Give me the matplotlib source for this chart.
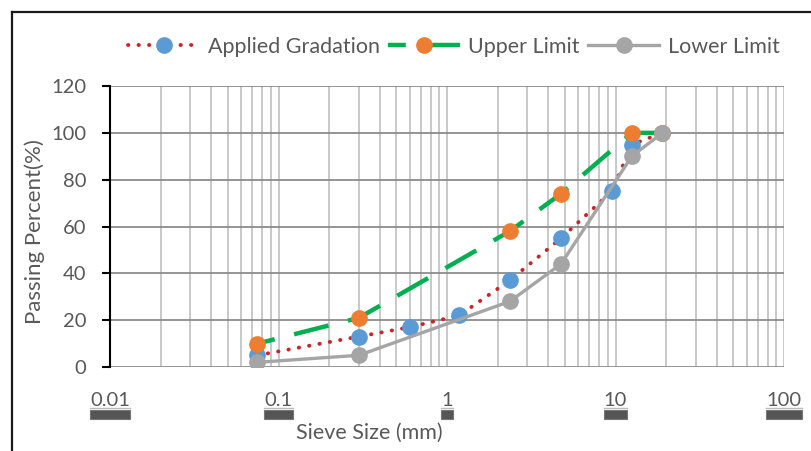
import matplotlib.pyplot as plt
from matplotlib.ticker import LogLocator, FixedLocator, NullFormatter
from matplotlib.patches import Rectangle
from matplotlib.lines import Line2D
from matplotlib.transforms import IdentityTransform

plt.rcParams['font.family'] = ['Lato', 'DejaVu Sans']

# 级配数据 (筛孔尺寸 mm, 通过率 %)
sieve_applied = [0.075, 0.3, 0.6, 1.18, 2.36, 4.75, 9.5, 12.5, 19]
passing_applied = [5, 13, 17, 22, 37, 55, 75, 95, 100]
sieve_limits = [0.075, 0.3, 2.36, 4.75, 12.5, 19]
passing_upper = [10, 21, 58, 74, 100, 100]
passing_lower = [2, 5, 28, 44, 90, 100]

x_ticks = [0.01, 0.1, 1, 10, 100]
x_tick_labels = ['0.01', '0.1', '1', '10', '100']
y_ticks = [0, 20, 40, 60, 80, 100, 120]

W, H = 811, 451
fig = plt.figure(figsize=(W / 100, H / 100), dpi=100)
ax = fig.add_axes([110 / W, 1 - 367 / H, (784 - 110) / W, (367 - 86) / H])

text_color = '#595959'

ax.plot(sieve_applied, passing_applied, color='#C9262C', lw=2.8,
        linestyle=(0, (0.1, 2.6)), dash_capstyle='round',
        marker='o', ms=11, mfc='#5B9BD5', mec='#5B9BD5',
        label='Applied Gradation', zorder=3)
ax.plot(sieve_limits, passing_upper, color='#00B050', lw=3.2,
        linestyle=(4, (8, 4.5)),
        marker='o', ms=11, mfc='#ED7D31', mec='#ED7D31',
        label='Upper Limit', zorder=4)
ax.plot(sieve_limits, passing_lower, color='#A5A5A5', lw=2.4,
        marker='o', ms=11, mfc='#A5A5A5', mec='#A5A5A5',
        label='Lower Limit', zorder=5)

ax.set_xscale('log')
ax.set_xlim(0.01, 100)
ax.set_ylim(0, 120)
ax.xaxis.set_major_locator(FixedLocator(x_ticks))
ax.set_xticklabels(x_tick_labels)
ax.xaxis.set_minor_locator(LogLocator(base=10, subs=range(2, 10)))
ax.xaxis.set_minor_formatter(NullFormatter())
ax.set_yticks(y_ticks)

ax.grid(axis='y', which='major', color='#8C8C8C', lw=1.3)
ax.grid(axis='x', which='both', color='#C4C4C4', lw=1.3)
ax.set_axisbelow(True)

for side in ['top', 'right', 'bottom']:
    ax.spines[side].set_visible(False)
ax.spines['left'].set_color('black')
ax.spines['left'].set_linewidth(1.5)

ax.tick_params(axis='y', which='major', length=6, width=1.5, direction='out',
               pad=11, labelsize=14.5, labelcolor=text_color)
ax.tick_params(axis='x', which='both', length=0, pad=18,
               labelsize=14.5, labelcolor=text_color)

ax.legend(loc='center', bbox_to_anchor=(454 / W, 1 - 47 / H),
          bbox_transform=fig.transFigure, ncol=3, frameon=False,
          fontsize=15.5, labelcolor=text_color, handlelength=3.3,
          handletextpad=0.4, columnspacing=0.4)

fig.text(35 / W, 1 - 232 / H, 'Passing Percent(%)', rotation=90,
         ha='center', va='center', fontsize=16, color=text_color)
fig.text(369 / W, 1 - 433 / H, 'Sieve Size (mm)', ha='center',
         va='center', fontsize=15.5, color=text_color)

# 外框线
fig.add_artist(Line2D([12 / W, 12 / W], [0, 1 - 12 / H], color='#1a1a1a', lw=1.6))
fig.add_artist(Line2D([12 / W, 1], [1 - 12 / H, 1 - 12 / H], color='#1a1a1a', lw=1.6))

# 刻度标签下方的深色条
fig.canvas.draw()
renderer = fig.canvas.get_renderer()
for lab in ax.get_xticklabels():
    bb = lab.get_window_extent(renderer)
    fig.add_artist(Line2D([bb.x0, bb.x1], [bb.y0 + 1, bb.y0 + 1],
                          transform=IdentityTransform(), color='#BBBBBB', lw=1))
    fig.add_artist(Rectangle((bb.x0, bb.y0 - 10), bb.width, 9,
                             transform=IdentityTransform(),
                             facecolor='#555555', edgecolor='#777777', lw=0.8))

fig.savefig('out.png', dpi=100)
